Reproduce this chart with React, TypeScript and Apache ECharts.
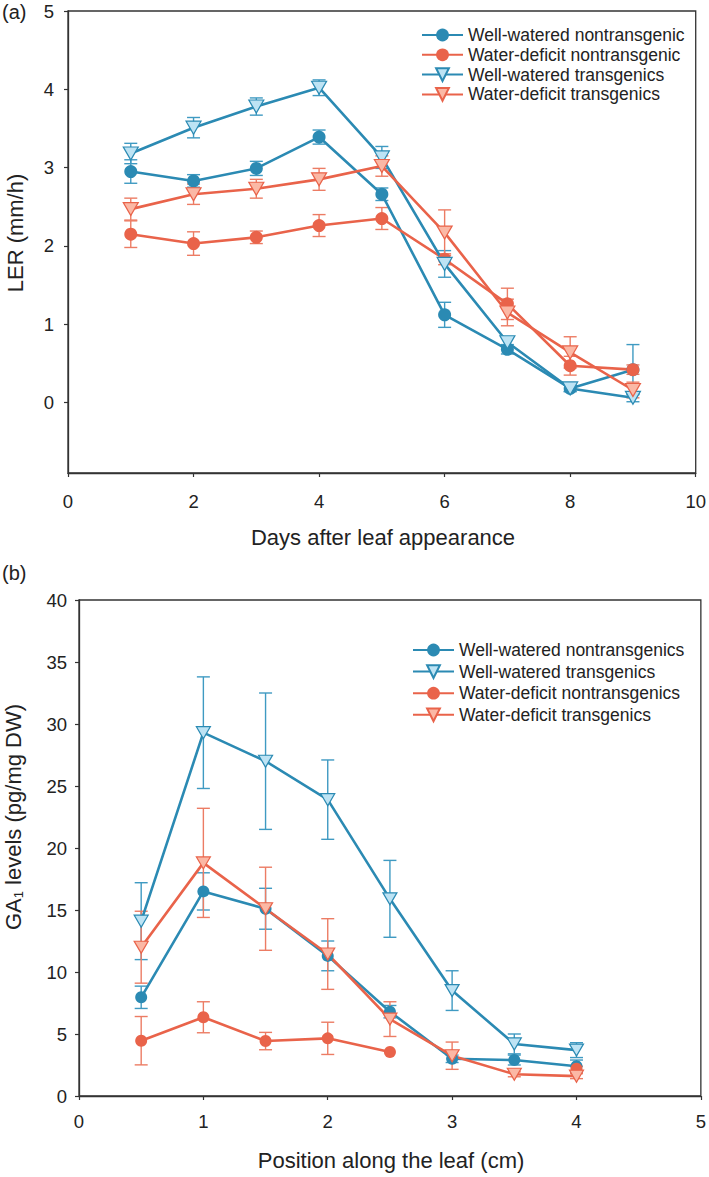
import React, { useEffect, useRef } from "react";
import * as echarts from "echarts";

// ---------- Panel (a): leaf elongation rate ----------
const daysA = [1, 2, 3, 4, 5, 6, 7, 8, 9];
const lerWWNon = [2.95, 2.83, 2.99, 3.39, 2.66, 1.12, 0.68, 0.18, 0.42];
const lerWWNonErr = [0.15, 0.08, 0.09, 0.09, 0.08, 0.16, 0.06, 0.04, 0.32];
const lerWDNon = [2.15, 2.03, 2.11, 2.26, 2.35, 1.83, 1.26, 0.47, 0.42];
const lerWDNonErr = [0.17, 0.15, 0.08, 0.14, 0.14, 0.07, 0.2, 0.12, 0.06];
const lerWWTr = [3.18, 3.51, 3.78, 4.02, 3.13, 1.77, 0.77, 0.18, 0.06];
const lerWWTrErr = [0.13, 0.13, 0.11, 0.1, 0.14, 0.17, 0.06, 0.04, 0.05];
const lerWDTr = [2.47, 2.66, 2.73, 2.85, 3.02, 2.17, 1.15, 0.64, 0.16];
const lerWDTrErr = [0.14, 0.13, 0.12, 0.14, 0.13, 0.29, 0.17, 0.2, 0.1];
const namesA = [
  "Well-watered nontransgenic",
  "Water-deficit nontransgenic",
  "Well-watered transgenics",
  "Water-deficit transgenics",
];
const yTicksA = [0, 1, 2, 3, 4, 5];

// ---------- Panel (b): GA1 levels ----------
const posB = [0.5, 1, 1.5, 2, 2.5, 3, 3.5, 4];
const gaWWNon = [7.96, 16.5, 15.1, 11.3, 6.8, 3.0, 2.9, 2.4];
const gaWWNonErr = [0.9, 1.5, 1.65, 1.2, 0.5, 0.3, 0.4, 0.5];
const gaWWTr = [14.1, 29.3, 27.0, 23.9, 15.9, 8.5, 4.2, 3.7];
const gaWWTrErr = [3.1, 4.5, 5.5, 3.2, 3.1, 1.6, 0.8, 0.6];
const gaWDNon = [4.46, 6.35, 4.43, 4.65, 3.55, null, null, 2.2];
const gaWDNonErr = [1.95, 1.25, 0.7, 1.3, 0, null, null, 0.2];
const gaWDTr = [12.0, 18.8, 15.1, 11.45, 6.2, 3.25, 1.75, 1.6];
const gaWDTrErr = [2.9, 4.4, 3.35, 2.85, 1.4, 1.1, 0.2, 0.2];
const namesB = [
  "Well-watered nontransgenics",
  "Well-watered transgenics",
  "Water-deficit nontransgenics",
  "Water-deficit transgenics",
];

const BLUE = "#2b8ab3";
const BLUE_LIGHT = "#bde3f4";
const BLUE_ERR = "#3f9ac2";
const RED = "#e9634a";
const RED_LIGHT = "#fbb8a5";
const RED_ERR = "#ec7c64";
const TRI = "path://M0,0L10,0L5,8.6Z";
const FONT = "Liberation Sans, Arial, sans-serif";
const INK = "#222";
const AXIS = "#333";

type Num = number | null;

function lineSeries(
  name: string,
  xs: number[],
  ys: Num[],
  color: string,
  fill: string,
  tri: boolean,
  gi: number,
  big: boolean
) {
  return {
    type: "line",
    name,
    xAxisIndex: gi,
    yAxisIndex: gi,
    data: xs.map((x, i) => [x, ys[i] == null ? "-" : ys[i]]),
    connectNulls: false,
    symbol: tri ? TRI : "circle",
    symbolSize: tri ? (big ? [15, 13] : [14, 12]) : big ? 13 : 12,
    showAllSymbol: true,
    lineStyle: { color, width: 2.6 },
    itemStyle: {
      color: tri ? fill : color,
      borderColor: color,
      borderWidth: tri ? 1.2 : 0,
    },
    z: 3,
  };
}

function errSeries(
  xs: number[],
  ys: Num[],
  errs: Num[],
  color: string,
  gi: number
) {
  const data: number[][] = [];
  xs.forEach((x, i) => {
    const y = ys[i];
    const e = errs[i];
    if (y == null || e == null || e === 0) return;
    data.push([x, y - e, y + e]);
  });
  return {
    type: "custom",
    xAxisIndex: gi,
    yAxisIndex: gi,
    data,
    encode: { x: 0, y: [1, 2] },
    silent: true,
    z: 2,
    renderItem: (params: any, api: any) => {
      const x = api.value(0);
      const lo = api.coord([x, api.value(1)]);
      const hi = api.coord([x, api.value(2)]);
      const w = 6.5;
      const st = { stroke: color, lineWidth: 1.4 };
      return {
        type: "group",
        children: [
          { type: "line", shape: { x1: lo[0], y1: lo[1], x2: hi[0], y2: hi[1] }, style: st },
          { type: "line", shape: { x1: lo[0] - w, y1: lo[1], x2: lo[0] + w, y2: lo[1] }, style: st },
          { type: "line", shape: { x1: hi[0] - w, y1: hi[1], x2: hi[0] + w, y2: hi[1] }, style: st },
        ],
      };
    },
  };
}

const axisCommon = {
  axisLine: { show: true, onZero: false, lineStyle: { color: AXIS, width: 1.3 } },
  axisTick: { show: true, inside: false, length: 4, lineStyle: { color: AXIS, width: 1.2 } },
  splitLine: { show: false },
  axisLabel: { color: INK, fontSize: 18.5, fontFamily: FONT },
};

export default function App() {
  const ref = useRef<HTMLDivElement>(null);
  useEffect(() => {
    document.body.style.margin = "0";
    if (!ref.current) return;
    const chart = echarts.init(ref.current, null, { renderer: "svg" });
    const option: any = {
      animation: false,
      backgroundColor: "#fff",
      textStyle: { fontFamily: FONT },
      grid: [
        { left: 68, top: 11, width: 630, height: 462, show: true, borderColor: AXIS, borderWidth: 1.3, backgroundColor: "transparent" },
        { left: 79, top: 600, width: 625, height: 496, show: true, borderColor: AXIS, borderWidth: 1.3, backgroundColor: "transparent" },
      ],
      xAxis: [
        { ...axisCommon, type: "value", gridIndex: 0, min: 0, max: 10, interval: 2, axisLabel: { ...axisCommon.axisLabel, margin: 19 } },
        { ...axisCommon, type: "value", gridIndex: 1, min: 0, max: 5, interval: 1, axisLabel: { ...axisCommon.axisLabel, margin: 16 } },
      ],
      yAxis: [
        {
          ...axisCommon,
          type: "value",
          gridIndex: 0,
          min: -0.9,
          max: 5,
          axisTick: { ...axisCommon.axisTick, customValues: yTicksA },
          axisLabel: { ...axisCommon.axisLabel, margin: 14, customValues: yTicksA },
        },
        { ...axisCommon, type: "value", gridIndex: 1, min: 0, max: 40, interval: 5, axisLabel: { ...axisCommon.axisLabel, margin: 12 } },
      ],
      legend: [
        {
          orient: "vertical",
          left: 421,
          top: 26,
          padding: 0,
          itemWidth: 41,
          itemHeight: 16,
          itemGap: 1.8,
          data: namesA,
          selectedMode: false,
          textStyle: { color: INK, fontSize: 17.5, fontFamily: FONT },
        },
        {
          orient: "vertical",
          left: 412,
          top: 641,
          padding: 0,
          itemWidth: 41,
          itemHeight: 16,
          itemGap: 3.6,
          data: namesB,
          selectedMode: false,
          textStyle: { color: INK, fontSize: 17.5, fontFamily: FONT },
        },
      ],
      graphic: [
        { type: "text", left: 2, top: 2, style: { text: "(a)", fontSize: 20, fill: INK, fontFamily: FONT } },
        { type: "text", left: 2, top: 563, style: { text: "(b)", fontSize: 20, fill: INK, fontFamily: FONT } },
        {
          type: "text",
          x: 15,
          y: 233,
          rotation: Math.PI / 2,
          style: { text: "LER (mm/h)", fontSize: 22, fill: INK, fontFamily: FONT, align: "center", verticalAlign: "middle" },
        },
        {
          type: "text",
          x: 13,
          y: 817,
          rotation: Math.PI / 2,
          style: {
            text: "GA{s|1} levels (pg/mg DW)",
            fontSize: 22,
            fill: INK,
            fontFamily: FONT,
            align: "center",
            verticalAlign: "middle",
            rich: { s: { fontSize: 13, fill: INK, fontFamily: FONT, padding: [10, 0, 0, 0] } },
          },
        },
        {
          type: "text",
          x: 383,
          y: 537,
          style: { text: "Days after leaf appearance", fontSize: 22, fill: INK, fontFamily: FONT, align: "center", verticalAlign: "middle" },
        },
        {
          type: "text",
          x: 391,
          y: 1160,
          style: { text: "Position along the leaf (cm)", fontSize: 22, fill: INK, fontFamily: FONT, align: "center", verticalAlign: "middle" },
        },
      ],
      series: [
        errSeries(daysA, lerWWNon, lerWWNonErr, BLUE_ERR, 0),
        errSeries(daysA, lerWDNon, lerWDNonErr, RED_ERR, 0),
        errSeries(daysA, lerWWTr, lerWWTrErr, BLUE_ERR, 0),
        errSeries(daysA, lerWDTr, lerWDTrErr, RED_ERR, 0),
        lineSeries(namesA[0], daysA, lerWWNon, BLUE, BLUE, false, 0, true),
        lineSeries(namesA[1], daysA, lerWDNon, RED, RED, false, 0, true),
        lineSeries(namesA[2], daysA, lerWWTr, BLUE, BLUE_LIGHT, true, 0, true),
        lineSeries(namesA[3], daysA, lerWDTr, RED, RED_LIGHT, true, 0, true),
        errSeries(posB, gaWWNon, gaWWNonErr, BLUE_ERR, 1),
        errSeries(posB, gaWWTr, gaWWTrErr, BLUE_ERR, 1),
        errSeries(posB, gaWDNon, gaWDNonErr, RED_ERR, 1),
        errSeries(posB, gaWDTr, gaWDTrErr, RED_ERR, 1),
        lineSeries(namesB[0], posB, gaWWNon, BLUE, BLUE, false, 1, false),
        lineSeries(namesB[1], posB, gaWWTr, BLUE, BLUE_LIGHT, true, 1, false),
        lineSeries(namesB[2], posB, gaWDNon, RED, RED, false, 1, false),
        lineSeries(namesB[3], posB, gaWDTr, RED, RED_LIGHT, true, 1, false),
      ],
    };
    chart.setOption(option);
    return () => chart.dispose();
  }, []);
  return <div ref={ref} style={{ width: 709, height: 1177 }} />;
}
